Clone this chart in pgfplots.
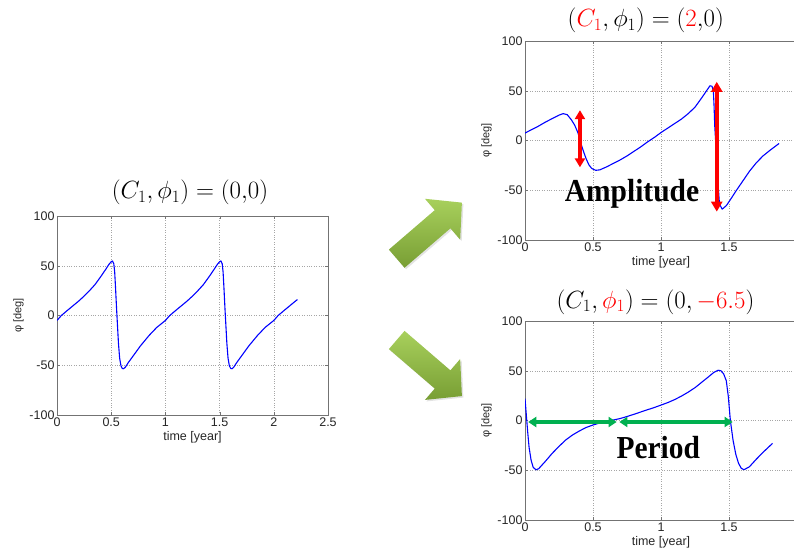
\documentclass[border=0pt]{standalone}
\usepackage{pgfplots}
\pgfplotsset{compat=1.18}
\usepackage{fontspec}
\setmainfont{Liberation Sans}
\newfontfamily\timesb{Liberation Serif}[BoldFont={Liberation Serif Bold}]
\usetikzlibrary{arrows.meta,shadows}
\definecolor{mblue}{RGB}{45,45,255}
\definecolor{pgreen}{RGB}{0,176,80}
\definecolor{alight}{RGB}{168,208,92}
\definecolor{adark}{RGB}{120,158,52}
\pgfplotsset{mat/.style={
  scale only axis, height=199pt,
  ymin=-100, ymax=100, ytick={-100,-50,0,50,100},
  grid=major, grid style={dotted, black!35},
  axis line style={black!55}, tick style={black!55}, tick align=inside,
  major tick length=3pt,
  /pgf/number format/assume math mode=true,
  ticklabel style={font=\fontsize{12.5}{12.5}\selectfont, text=black!85},
  xticklabel style={yshift=1pt},
  yticklabel style={xshift=1pt},
  xlabel={time [year]}, ylabel={φ [deg]},
  xlabel style={font=\fontsize{12.5}{12.5}\selectfont, text=black!85, yshift=2pt},
  ylabel style={font=\fontsize{11}{11}\selectfont, text=black!85, yshift=-1pt},
  every axis plot/.append style={mblue, line width=1.1pt, no marks, line join=round},
}}
\tikzset{bigarrow/.style={top color=alight, bottom color=adark,
  drop shadow={opacity=0.22, shadow xshift=1.5pt, shadow yshift=-1.5pt}}}
\begin{document}
\begin{tikzpicture}[x=1pt,y=1pt]
\useasboundingbox (0,0) rectangle (794,552);

% ---------- left plot (C1,phi1)=(0,0)
\begin{axis}[mat, at={(57pt,137pt)}, anchor=south west, width=271pt,
  xmin=0, xmax=2.5, xtick={0,0.5,1,1.5,2,2.5}]
\addplot coordinates {
(0,-5) (0.04,0) (0.1,5.5) (0.15,10) (0.2,14.5) (0.25,19.5) (0.3,25) (0.35,31)
(0.4,38.5) (0.45,46.5) (0.48,51.5) (0.5,54) (0.512,54.8) (0.524,52) (0.532,44)
(0.54,28) (0.549,8) (0.557,-8) (0.567,-28) (0.578,-43) (0.59,-50.5) (0.603,-53.3)
(0.615,-53.5) (0.63,-52) (0.66,-47) (0.71,-39.5) (0.77,-30.5) (0.85,-20)
(0.92,-12) (0.96,-8.5)
(1.0,-5) (1.04,0) (1.1,5.5) (1.15,10) (1.2,14.5) (1.25,19.5) (1.3,25) (1.35,31)
(1.4,38.5) (1.45,46.5) (1.48,51.5) (1.5,54) (1.512,54.8) (1.524,52) (1.532,44)
(1.54,28) (1.549,8) (1.557,-8) (1.567,-28) (1.578,-43) (1.59,-50.5) (1.603,-53.3)
(1.615,-53.5) (1.63,-52) (1.66,-47) (1.71,-39.5) (1.77,-30.5) (1.85,-20)
(1.92,-12) (1.96,-8.5)
(2.0,-5) (2.04,0) (2.1,5.5) (2.15,10) (2.2,14.5) (2.218,16)
};
\end{axis}

% ---------- top right plot (C1,phi1)=(2,0)
\begin{axis}[mat, at={(525pt,312pt)}, anchor=south west, width=272pt,
  xmin=0, xmax=2, xtick={0,0.5,1,1.5}, extra x ticks={2}, extra x tick labels={}]
\addplot coordinates {
(0,7.5) (0.05,11) (0.1,14.5) (0.15,18.5) (0.2,22) (0.25,25.5) (0.28,27)
(0.31,26) (0.34,21) (0.365,15.5) (0.39,7.5) (0.41,-2.5) (0.43,-11) (0.45,-18.5)
(0.47,-24.5) (0.49,-28) (0.52,-30) (0.55,-29.5) (0.6,-26.5) (0.65,-23)
(0.7,-19.5) (0.75,-15.5) (0.8,-11) (0.85,-6.5) (0.9,-1.5) (0.95,3) (1.0,8)
(1.05,12.5) (1.1,17) (1.15,21.5) (1.2,27) (1.25,33.5) (1.3,43) (1.33,49)
(1.36,55) (1.375,54.5) (1.385,50) (1.39,35) (1.395,15) (1.41,-20) (1.42,-45)
(1.43,-64) (1.45,-69) (1.48,-65.5) (1.51,-59.5) (1.55,-51) (1.6,-41)
(1.65,-31) (1.7,-22.5) (1.75,-15.5) (1.8,-10) (1.868,-3)
};
\draw[red, line width=3.2pt, {Triangle[width=10pt,length=9pt]}-{Triangle[width=10pt,length=9pt]}]
  (axis cs:0.404,30.5) -- (axis cs:0.404,-27);
\draw[red, line width=3.6pt, {Triangle[width=11pt,length=10pt]}-{Triangle[width=11pt,length=10pt]}]
  (axis cs:1.41,59) -- (axis cs:1.41,-71.5);
\end{axis}

% ---------- bottom right plot (C1,phi1)=(0,-6.5)
\begin{axis}[mat, at={(525pt,32pt)}, anchor=south west, width=272pt,
  xmin=0, xmax=2, xtick={0,0.5,1,1.5}]
\addplot coordinates {
(0,22) (0.01,5) (0.02,-12) (0.03,-27) (0.045,-40) (0.06,-47) (0.08,-49.5)
(0.1,-48.5) (0.15,-41) (0.2,-33) (0.25,-26) (0.3,-19.5) (0.35,-14.5)
(0.4,-10.5) (0.45,-7) (0.5,-4.5) (0.55,-2.5) (0.6,-1) (0.65,0.5) (0.7,2)
(0.75,4) (0.8,6.2) (0.85,8.5) (0.9,10.8) (0.95,13) (1.0,15.5) (1.05,18)
(1.1,21) (1.15,24.5) (1.2,28.5) (1.25,33) (1.3,38.5) (1.35,44) (1.39,48.5)
(1.42,50.5) (1.44,50) (1.46,47) (1.48,40) (1.495,24) (1.51,0) (1.53,-20)
(1.55,-34) (1.57,-43) (1.59,-48) (1.61,-49.5) (1.65,-46.5) (1.7,-39)
(1.75,-32) (1.82,-23)
};
\draw[pgreen, line width=3.4pt, {Triangle[width=10pt,length=8pt]}-{Triangle[width=10pt,length=8pt]}]
  (axis cs:0.024,-1.5) -- (axis cs:0.674,-1.5);
\draw[pgreen, line width=3.4pt, {Triangle[width=10pt,length=8pt]}-{Triangle[width=10pt,length=8pt]}]
  (axis cs:0.694,-1.5) -- (axis cs:1.527,-1.5);
\end{axis}

% ---------- titles and annotations
\node[anchor=base, font=\fontsize{24}{24}\selectfont] at (190,353.2)
  {$(C_1,\phi_1)=(0{,}0)$};
\node[anchor=base, font=\fontsize{24}{24}\selectfont] at (645.8,525.7)
  {$({\color{red}C_1},\phi_1)=({\color{red}2}{,}0)$};
\node[anchor=base, font=\fontsize{24}{24}\selectfont] at (655.5,243.8)
  {$(C_1,{\color{red}\phi_1})=(0,{\color{red}-6.5})$};

\node[anchor=base, font=\timesb\bfseries\fontsize{32}{32}\selectfont, xscale=0.92, inner sep=0pt]
  at (632,350.3) {Amplitude};
\node[anchor=base, font=\timesb\bfseries\fontsize{32}{32}\selectfont, xscale=0.92, inner sep=0pt]
  at (658.3,93.7) {Period};

% ---------- big green arrows
\path[bigarrow, shift={(396.7,293.3)}, rotate=40.7]
  (0,-12) -- (60.5,-12) -- (60.5,-27) -- (86,0) -- (60.5,27) -- (60.5,12) -- (0,12) -- cycle;
\path[bigarrow, shift={(396.7,212)}, rotate=-40.7]
  (0,-12) -- (60.5,-12) -- (60.5,-27) -- (86,0) -- (60.5,27) -- (60.5,12) -- (0,12) -- cycle;
\end{tikzpicture}
\end{document}
